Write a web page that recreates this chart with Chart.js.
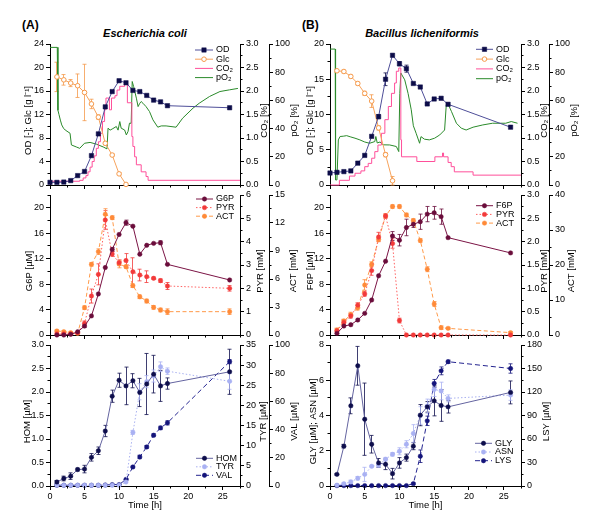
<!DOCTYPE html>
<html>
<head>
<meta charset="utf-8">
<script src="https://cdn.jsdelivr.net/npm/chart.js@4.4.1/dist/chart.umd.min.js"></script>
<style>
  html, body { margin: 0; padding: 0; background: #fff; }
  body { position: relative; width: 600px; height: 527px; overflow: hidden; font-family: "Liberation Sans", Arial, sans-serif; }
  canvas { position: absolute; }
  .t { position: absolute; font-weight: bold; white-space: nowrap; color: #000; }
</style>
</head>
<body>
<div class="t" style="left:22px;top:18px;font-size:12px">(A)</div>
<div class="t" style="left:45px;top:27px;width:200px;text-align:center;font-size:11px;font-style:italic">Escherichia coli</div>
<div class="t" style="left:302px;top:18px;font-size:12px">(B)</div>
<div class="t" style="left:322px;top:27px;width:200px;text-align:center;font-size:11px;font-style:italic">Bacillus licheniformis</div>

<canvas id="a1" width="300" height="159" style="left:0;top:36px"></canvas>
<canvas id="a2" width="300" height="158" style="left:0;top:187px"></canvas>
<canvas id="a3" width="300" height="190" style="left:0;top:337px"></canvas>
<canvas id="b1" width="320" height="159" style="left:280px;top:36px"></canvas>
<canvas id="b2" width="320" height="158" style="left:280px;top:187px"></canvas>
<canvas id="b3" width="320" height="190" style="left:280px;top:337px"></canvas>

<script>
// sampling times [h]
const hoursOD = [0, 1, 2, 3, 4, 5, 6, 7, 8, 9, 10, 11, 12, 13, 14, 15, 16, 17, 26];
const hours = [1, 2, 3, 4, 5, 6, 7, 8, 9, 10, 11, 12, 13, 14, 15, 16, 17, 26];
const hoursGlcA = [1, 2, 3, 4, 5, 6, 7, 8, 9, 10, 11];
const hoursGlcB = [1, 2, 3, 4, 5, 6, 7, 8, 9];

// (A) E. coli - top
const odA = [0.45, 0.45, 0.5, 0.75, 1.6, 2.3, 5.0, 8.7, 13.3, 15.9, 17.75, 17.4, 16.1, 15.9, 15.25, 14.45, 14.15, 13.5, 13.15];
const glcA = [18.4, 17.9, 17.35, 16.9, 15.75, 13.8, 11.55, 7.1, 5.1, 1.9, 0.1];
const glcAErr = [2.5, 0.9, 0.6, 2.0, 4.8, 0.8, 0.4, 0.3, 0.2, 0.2, 0];
const co2TimeA = [0, 4.3, 4.8, 5.2, 5.5, 5.8, 6.1, 6.4, 6.7, 7.0, 7.3, 7.6, 7.9, 8.1, 8.6, 8.9, 9.4, 9.7, 10.1, 10.8, 11.2, 11.85, 12.0, 12.25, 12.5, 13.2, 13.9, 14.2, 27.5];
const co2A = [0.08, 0.1, 0.15, 0.2, 0.28, 0.38, 0.5, 0.62, 0.78, 0.92, 1.1, 1.35, 1.6, 1.85, 1.6, 1.85, 1.9, 2.02, 2.1, 2.2, 1.75, 1.03, 0.82, 0.6, 0.43, 0.28, 0.18, 0.1, 0.1];
const po2TimeA = [0, 1.05, 1.15, 1.3, 1.5, 1.7, 1.95, 2.2, 2.9, 3.1, 3.8, 4.3, 5.0, 5.8, 6.7, 7.7, 8.25, 8.4, 8.7, 9.1, 9.6, 9.85, 10.1, 10.3, 10.8, 11.05, 11.3, 11.5, 11.75, 11.9, 12.1, 12.5, 12.75, 13.0, 13.2, 13.45, 13.9, 14.4, 14.9, 15.6, 16.1, 16.8, 18.25, 19.2, 20.7, 21.6, 23.1, 24.6, 26.0, 27.2];
const po2A = [97.6, 97.6, 53, 50, 46, 42.6, 40.3, 39, 36.7, 28.4, 27, 26, 29.6, 30.2, 29, 27, 25.6, 40.3, 38.9, 40, 41.5, 38.9, 45, 40.3, 39, 35.5, 38, 43.8, 43.8, 73.4, 69.9, 61.6, 55.6, 58, 59.2, 58, 55.6, 52.1, 46.2, 41, 41.9, 41.9, 41, 47.4, 54.5, 58, 62.8, 66.3, 67.5, 68.5];

// (A) middle
const g6p = [0, 0, 0.1, 0.5, 1.4, 3.0, 6.45, 10.6, 13.45, 15.8, 17.65, 17.1, 12.7, 14.1, 14.4, 14.5, 11.1, 8.65];
const g6pErr = [0, 0, 0, 0, 0.2, 0, 0, 0, 0.3, 0, 0.4, 0, 0, 0, 0, 0.3, 0, 0];
const pyrA = [0.05, 0.05, 0.05, 0.1, 0.5, 1.67, 2.6, 4.93, 3.47, 3.1, 3.19, 2.71, 2.57, 2.5, 2.43, 2.33, 2.1, 2.0];
const pyrAErr = [0, 0, 0, 0, 0.1, 0.3, 0.45, 0.4, 0.1, 0.12, 0.3, 0.6, 0.25, 0.25, 0.05, 0.08, 0.15, 0.12];
const actA = [0.43, 0.36, 0.25, 0.18, 2.93, 7.57, 8.93, 12.93, 12.57, 7.6, 7.32, 5.29, 4.1, 3.64, 2.96, 2.68, 2.5, 2.5];
const actAErr = [0.1, 0.1, 0.1, 0.1, 0.2, 0.2, 0.3, 0.6, 0.2, 0.4, 0.2, 0.2, 0.2, 0.2, 0.2, 0.2, 0.3, 0.3];

// (A) bottom
const hom = [0.085, 0.16, 0.21, 0.35, 0.36, 0.61, 0.75, 1.17, 1.91, 2.25, 2.13, 2.24, 1.99, 2.17, 2.38, 2.13, 2.18, 2.43];
const homErr = [0.03, 0.05, 0.07, 0.03, 0.08, 0.08, 0.08, 0.12, 0.13, 0.15, 0.4, 0.15, 0.3, 0.65, 0.4, 0.33, 0.12, 0.48];
const tyr = [0.2, 0.2, 0.2, 0.2, 0.2, 0.2, 0.2, 0.2, 0.2, 0.2, 1.0, 13.3, 23.4, 25.9, 27.3, 29.6, 28.5, 26.0];
const tyrErr = [0, 0, 0, 0, 0, 0, 0, 0, 0, 0, 0, 0.5, 2.0, 1.5, 1.5, 1.2, 0.8, 2.0];
const val = [0.5, 0.5, 0.5, 0.5, 0.5, 0.5, 0.5, 0.7, 1.0, 1.0, 4.7, 13.5, 20.6, 27.7, 36.0, 41.2, 44.8, 88.2];
const valErr = [0.3, 0.3, 0.3, 0.3, 0.3, 0.3, 0.3, 0.3, 0.3, 0.3, 0.5, 0.5, 1.2, 1, 1, 1.2, 1.5, 1.5];

// (B) B. licheniformis - top
const odB = [1.7, 1.8, 1.9, 2.0, 3.1, 4.2, 6.9, 9.7, 15.0, 18.4, 17.2, 16.5, 14.4, 13.9, 11.5, 12.2, 12.3, 11.45, 8.2];
const odBErr = [0, 0, 0, 0, 0, 0, 0, 0.3, 0.9, 0, 0.3, 0.5, 0, 0, 0, 0, 0, 0, 0];
const glcB = [16.2, 16.1, 15.4, 14.4, 13.0, 11.9, 8.1, 4.3, 0.6];
const glcBErr = [0.2, 0.2, 0.2, 0.2, 0.3, 0.9, 0.3, 0.3, 0.6];
const co2TimeB = [0, 1.35, 2.8, 3.6, 4.45, 5.0, 5.5, 6.0, 6.45, 6.9, 7.4, 7.9, 8.4, 8.85, 9.3, 9.55, 9.9, 10.2, 10.3, 12.5, 15.1, 16.2, 16.35, 17.0, 17.45, 17.9, 20.6, 27.5];
const co2B = [0.0, 0.1, 0.19, 0.25, 0.3, 0.39, 0.46, 0.57, 0.71, 0.85, 1.1, 1.39, 1.67, 1.95, 2.17, 2.42, 2.49, 0.96, 0.6, 0.5, 0.6, 0.68, 0.6, 0.48, 0.39, 0.28, 0.21, 0.21];
const po2TimeB = [0, 0.75, 0.8, 1.0, 1.2, 1.45, 1.9, 2.4, 2.9, 3.6, 4.3, 5.0, 5.7, 6.45, 6.6, 6.8, 7.2, 7.65, 8.6, 9.55, 9.9, 10.05, 10.2, 10.76, 11.24, 11.7, 12.0, 12.4, 12.9, 13.1, 13.6, 14.3, 15.06, 15.8, 16.5, 16.74, 16.95, 17.5, 18.2, 18.9, 19.6, 20.6, 22.0, 23.4, 25.3, 26.1, 27.0];
const po2B = [96.4, 96.4, 3.6, 3.6, 32, 34.4, 34.6, 35, 34.2, 33.2, 32, 30.5, 29.6, 30.8, 34.4, 29.8, 30.5, 28.5, 28.4, 27.3, 23.7, 65, 79.4, 74.6, 65, 53.3, 42, 36.7, 29.6, 34.3, 32.5, 32, 33.2, 35.5, 39, 56.9, 58, 52, 43.8, 40.3, 39, 41, 42.6, 43.8, 43.8, 45, 43.8];

// (B) middle
const f6p = [0.26, 1.41, 1.62, 2.36, 3.4, 5.5, 9.3, 11.6, 15.55, 14.9, 16.9, 17.4, 17.8, 19.0, 19.2, 18.6, 15.3, 12.9];
const f6pErr = [0, 0, 0, 0, 0, 0, 0, 0, 0.7, 0.9, 1.3, 0.5, 1.2, 1.2, 1.0, 1.2, 0, 0];
const pyrB = [0.09, 0.27, 0.41, 0.64, 0.88, 1.38, 2.1, 2.55, 1.96, 0.31, 0, 0, 0, 0, 0, 0, 0, 0];
const pyrBErr = [0, 0.05, 0.05, 0.05, 0.05, 0.1, 0.1, 0.05, 0.1, 0.05, 0, 0, 0, 0, 0, 0, 0, 0];
const actB = [1.43, 4.0, 5.8, 7.8, 14.3, 20.2, 27.3, 34.0, 36.7, 36.7, 34.3, 32.7, 27.0, 18.8, 8.86, 2.1, 1.9, 0.67];
const actBErr = [0.5, 0.5, 0.7, 0.7, 1.5, 0.7, 0.5, 0.5, 0.5, 0.5, 0.5, 0.5, 0.5, 0.7, 0.7, 0.5, 0.3, 0.3];

// (B) bottom
const gly = [0.66, 2.26, 4.55, 6.82, 3.79, 2.37, 1.31, 1.23, 0.7, 1.31, 1.61, 2.26, 4.02, 4.49, 4.83, 4.57, 4.49, 5.31];
const glyErr = [0.05, 0.1, 0.45, 1.1, 2.05, 0.5, 0.25, 0.3, 0.3, 0.3, 0.2, 0.2, 0.6, 0.3, 0.85, 0.9, 0.35, 0.65];
const asn = [0.05, 0.13, 0.23, 0.44, 0.66, 1.12, 1.18, 1.52, 1.8, 1.97, 2.37, 2.98, 4.0, 4.53, 5.48, 5.39, 4.97, 5.16];
const asnErr = [0, 0.05, 0.1, 0.1, 0.4, 0.05, 0.1, 0.1, 0.1, 0.2, 0.2, 0.5, 0.5, 0.4, 0.4, 0.5, 0.2, 0.3];
const lys = [0.5, 0.5, 0.5, 0.5, 0.5, 0.5, 0.5, 0.5, 0.5, 0.5, 0.5, 3, 38, 83.2, 131, 147, 158.7, 150];
const lysErr = [0, 0, 0, 0, 0, 0, 0, 0, 0, 0, 0, 1, 8, 6, 5, 5, 2, 6];

const FONT = '"Liberation Sans", Arial, sans-serif';
Chart.defaults.font.family = FONT;
Chart.defaults.font.size = 9;
Chart.defaults.color = '#000';

const fix1 = v => v.toFixed(1);

function ax(pos, max, step, width, weight, fmt) {
  return {
    type: 'linear', position: pos, min: 0, max: max, weight: weight || 0,
    afterFit: s => { s.width = width; },
    border: { color: '#000', width: 1 },
    grid: { drawOnChartArea: false, color: '#000', tickLength: 4 },
    ticks: { stepSize: step, includeBounds: false, autoSkip: false, padding: 2, font: { size: 9 }, callback: fmt || (v => v) }
  };
}

function xAx(labels, height) {
  return {
    type: 'linear', position: 'bottom', min: 0, max: 27.5,
    afterFit: s => { s.height = height; },
    border: { color: '#000', width: 1 },
    grid: { drawOnChartArea: false, color: '#000', tickLength: 4 },
    ticks: { stepSize: 5, includeBounds: false, autoSkip: false, maxRotation: 0, padding: 1, font: { size: 9 },
      callback: labels ? (v => v) : () => '' },
    title: labels ? { display: true, text: 'Time [h]', font: { size: 9.5 }, padding: { top: 0, bottom: 16 } } : { display: false }
  };
}

function series(label, xs, ys, o) {
  return Object.assign({
    label: label,
    data: xs.map((x, i) => ({ x: x, y: ys[i] })),
    borderWidth: 1, pointRadius: 0, pointBorderWidth: 0.5, clip: false, tension: 0
  }, o);
}

function markers(color, o) {
  return Object.assign({ pointStyle: 'circle', pointRadius: 2.2, pointBackgroundColor: color, pointBorderColor: color }, o);
}

function alignPx(p) { return Math.round(p - 0.5) + 0.5; }

function drawMark(ctx, ds, x, y) {
  const r = ds.pointRadius;
  ctx.fillStyle = ds.pointBackgroundColor;
  ctx.strokeStyle = ds.pointBorderColor;
  ctx.lineWidth = ds.pointBorderWidth;
  ctx.beginPath();
  if (ds.pointStyle === 'rect') {
    const s = r * Math.SQRT1_2;
    ctx.rect(x - s, y - s, 2 * s, 2 * s);
  } else {
    ctx.arc(x, y, r, 0, Math.PI * 2);
  }
  ctx.fill();
  if (ds.pointBorderWidth > 0) ctx.stroke();
}

// error bars, minor ticks, rotated axis titles and the inset legend
function decor(c) {
  return {
    id: 'decor',
    beforeDatasetsDraw(chart) {
      const ctx = chart.ctx;
      chart.data.datasets.forEach((ds, i) => {
        if (!ds.errors) return;
        const ys = chart.scales[ds.yAxisID];
        const meta = chart.getDatasetMeta(i);
        ctx.save();
        ctx.strokeStyle = ds.errColor || ds.pointBorderColor;
        ctx.lineWidth = 0.8;
        meta.data.forEach((pt, j) => {
          const e = ds.errors[j];
          if (!e) return;
          const v = ds.data[j].y;
          const y1 = ys.getPixelForValue(v + e), y2 = ys.getPixelForValue(v - e);
          const x = alignPx(pt.x);
          ctx.beginPath();
          ctx.moveTo(x, y1); ctx.lineTo(x, y2);
          ctx.moveTo(x - 2, y1); ctx.lineTo(x + 2, y1);
          ctx.moveTo(x - 2, y2); ctx.lineTo(x + 2, y2);
          ctx.stroke();
        });
        ctx.restore();
      });
    },
    afterDraw(chart) {
      const ctx = chart.ctx;
      ctx.save();
      ctx.strokeStyle = '#000';
      ctx.lineWidth = 1;
      Object.keys(c.minor).forEach(id => {
        const s = chart.scales[id], step = c.minor[id];
        for (let k = 0; k * step <= s.max + 1e-9; k++) {
          const p = alignPx(s.getPixelForValue(k * step));
          ctx.beginPath();
          if (id === 'x') { ctx.moveTo(p, s.top); ctx.lineTo(p, s.top + 2.5); }
          else if (s.position === 'left') { ctx.moveTo(s.right, p); ctx.lineTo(s.right - 2.5, p); }
          else { ctx.moveTo(s.left, p); ctx.lineTo(s.left + 2.5, p); }
          ctx.stroke();
        }
      });
      const area = chart.chartArea;
      const cy = (area.top + area.bottom) / 2 + 6;
      ctx.fillStyle = '#000';
      ctx.font = '9.5px ' + FONT;
      ctx.textAlign = 'center';
      ctx.textBaseline = 'middle';
      c.titles.forEach(t => {
        ctx.save();
        ctx.translate(t.x, cy);
        ctx.rotate(-Math.PI / 2);
        ctx.fillText(t.text, 0, 0);
        ctx.restore();
      });
      const L = c.legend;
      chart.data.datasets.forEach((ds, i) => {
        const y = L.y + i * L.dy;
        ctx.save();
        ctx.strokeStyle = ds.borderColor;
        ctx.lineWidth = ds.borderWidth;
        ctx.setLineDash(ds.borderDash || []);
        ctx.beginPath();
        ctx.moveTo(L.x, y); ctx.lineTo(L.x + L.w, y);
        ctx.stroke();
        ctx.setLineDash([]);
        if (ds.pointRadius) drawMark(ctx, ds, L.x + L.w / 2, y);
        ctx.fillStyle = '#000';
        ctx.font = '9px ' + FONT;
        ctx.textAlign = 'left';
        ctx.textBaseline = 'middle';
        ctx.fillText(ds.label, L.x + L.w + 3, y);
        ctx.restore();
      });
      ctx.restore();
    }
  };
}

function make(id, c) {
  return new Chart(document.getElementById(id), {
    type: 'line',
    data: { datasets: c.datasets },
    options: {
      responsive: false, animation: false, events: [],
      layout: { padding: { top: 8, left: 0, right: 0, bottom: 0 } },
      plugins: { legend: { display: false }, tooltip: { enabled: false } },
      scales: c.scales
    },
    plugins: [decor(c)]
  });
}

const C = {
  od: '#4e4e98', odPt: '#0c0c48',
  glc: '#f7a35c', glcPt: '#f5994a',
  co2: '#ff4f9a', po2: '#2a8a2a',
  sug: '#7b1445', sugPt: '#6a0d3b',
  pyr: '#ff6060', pyrPt: '#f23a3a',
  act: '#ff9a4a', actPt: '#ff8a38',
  aa1: '#6464a0', aa1Pt: '#0e0e4c',
  aa2: '#a8b0f0', aa2Pt: '#a9b1f3',
  aa3: '#23238f', aa3Pt: '#14147a'
};

// ---------- (A) top ----------
make('a1', {
  datasets: [
    series('OD', hoursOD, odA, { yAxisID: 'y', borderColor: C.od, pointStyle: 'rect', pointRadius: 3.1, pointBackgroundColor: C.odPt, pointBorderColor: C.odPt }),
    series('Glc', hoursGlcA, glcA, { yAxisID: 'y', borderColor: C.glc, pointStyle: 'circle', pointRadius: 2.3, pointBackgroundColor: '#fff', pointBorderColor: C.glcPt, pointBorderWidth: 1, errors: glcAErr }),
    series('CO₂', co2TimeA, co2A, { yAxisID: 'yc', borderColor: C.co2, stepped: true }),
    series('pO₂', po2TimeA, po2A, { yAxisID: 'yp', borderColor: C.po2 })
  ],
  scales: { x: xAx(false, 10), y: ax('left', 24, 4, 50), yc: ax('right', 3, 0.5, 29, 0, fix1), yp: ax('right', 100, 20, 31, 1) },
  minor: { x: 2.5, y: 2, yc: 0.25, yp: 10 },
  titles: [{ x: 28, text: 'OD [-]; Glc [g l⁻¹]' }, { x: 264, text: 'CO₂ [%]' }, { x: 294, text: 'pO₂ [%]' }],
  legend: { x: 195, y: 14, dy: 9.2, w: 18 }
});

// ---------- (A) middle ----------
make('a2', {
  datasets: [
    series('G6P', hours, g6p, markers(C.sugPt, { yAxisID: 'y', borderColor: C.sug, errors: g6pErr })),
    series('PYR', hours, pyrA, markers(C.pyrPt, { yAxisID: 'yr', borderColor: C.pyr, borderDash: [1.5, 2], errors: pyrAErr })),
    series('ACT', hours, actA, markers(C.actPt, { yAxisID: 'ya', borderColor: C.act, borderDash: [4, 2.5], errors: actAErr }))
  ],
  scales: { x: xAx(false, 10), y: ax('left', 22, 4, 50), yr: ax('right', 6, 1, 29), ya: ax('right', 15, 3, 31, 1) },
  minor: { x: 2.5, y: 2, yr: 0.5, ya: 1.5 },
  titles: [{ x: 29, text: 'G6P [µM]' }, { x: 260, text: 'PYR [mM]' }, { x: 293, text: 'ACT [mM]' }],
  legend: { x: 196, y: 12, dy: 8.6, w: 17 }
});

// ---------- (A) bottom ----------
make('a3', {
  datasets: [
    series('HOM', hours, hom, markers(C.aa1Pt, { yAxisID: 'y', borderColor: C.aa1, errors: homErr })),
    series('TYR', hours, tyr, markers(C.aa2Pt, { yAxisID: 'yt', borderColor: C.aa2, borderDash: [1.5, 2], errors: tyrErr })),
    series('VAL', hours, val, markers(C.aa3Pt, { yAxisID: 'yv', borderColor: C.aa3, borderDash: [5, 3], errors: valErr }))
  ],
  scales: { x: xAx(true, 41), y: ax('left', 3, 0.5, 50, 0, fix1), yt: ax('right', 35, 5, 29), yv: ax('right', 100, 20, 31, 1) },
  minor: { x: 2.5, y: 0.25, yt: 2.5, yv: 10 },
  titles: [{ x: 27, text: 'HOM [µM]' }, { x: 263, text: 'TYR [µM]' }, { x: 294, text: 'VAL [µM]' }],
  legend: { x: 196, y: 121.3, dy: 8.5, w: 17 }
});

// ---------- (B) top ----------
make('b1', {
  datasets: [
    series('OD', hoursOD, odB, { yAxisID: 'y', borderColor: C.od, pointStyle: 'rect', pointRadius: 3.1, pointBackgroundColor: C.odPt, pointBorderColor: C.odPt, errors: odBErr }),
    series('Glc', hoursGlcB, glcB, { yAxisID: 'y', borderColor: C.glc, pointStyle: 'circle', pointRadius: 2.3, pointBackgroundColor: '#fff', pointBorderColor: C.glcPt, pointBorderWidth: 1, errors: glcBErr }),
    series('CO₂', co2TimeB, co2B, { yAxisID: 'yc', borderColor: C.co2, stepped: true }),
    series('pO₂', po2TimeB, po2B, { yAxisID: 'yp', borderColor: C.po2 })
  ],
  scales: { x: xAx(false, 10), y: ax('left', 20, 5, 50), yc: ax('right', 3, 0.5, 28, 0, fix1), yp: ax('right', 100, 20, 51, 1) },
  minor: { x: 2.5, y: 2.5, yc: 0.25, yp: 10 },
  titles: [{ x: 30, text: 'OD [-]; Glc [g l⁻¹]' }, { x: 264, text: 'CO₂ [%]' }, { x: 294, text: 'pO₂ [%]' }],
  legend: { x: 196, y: 13.3, dy: 9.8, w: 17 }
});

// ---------- (B) middle ----------
make('b2', {
  datasets: [
    series('F6P', hours, f6p, markers(C.sugPt, { yAxisID: 'y', borderColor: C.sug, errors: f6pErr })),
    series('PYR', hours, pyrB, markers(C.pyrPt, { yAxisID: 'yr', borderColor: C.pyr, borderDash: [1.5, 2], errors: pyrBErr })),
    series('ACT', hours, actB, markers(C.actPt, { yAxisID: 'ya', borderColor: C.act, borderDash: [4, 2.5], errors: actBErr }))
  ],
  scales: { x: xAx(false, 10), y: ax('left', 22, 4, 50), yr: ax('right', 3, 0.5, 28, 0, fix1), ya: ax('right', 40, 10, 51, 1) },
  minor: { x: 2.5, y: 2, yr: 0.25, ya: 5 },
  titles: [{ x: 30, text: 'F6P [µM]' }, { x: 264, text: 'PYR [mM]' }, { x: 291, text: 'ACT [mM]' }],
  legend: { x: 196, y: 18.7, dy: 8.7, w: 17 }
});

// ---------- (B) bottom ----------
make('b3', {
  datasets: [
    series('GLY', hours, gly, markers(C.aa1Pt, { yAxisID: 'y', borderColor: C.aa1, errors: glyErr })),
    series('ASN', hours, asn, markers(C.aa2Pt, { yAxisID: 'y', borderColor: C.aa2, borderDash: [1.5, 2], errors: asnErr })),
    series('LYS', hours, lys, markers(C.aa3Pt, { yAxisID: 'yl', borderColor: C.aa3, borderDash: [5, 3], errors: lysErr }))
  ],
  scales: { x: xAx(true, 41), y: ax('left', 8, 2, 50), yl: ax('right', 180, 30, 79) },
  minor: { x: 2.5, y: 1, yl: 15 },
  titles: [{ x: 33, text: 'GLY [µM]; ASN [µM]' }, { x: 266, text: 'LSY [µM]' }],
  legend: { x: 195, y: 106.3, dy: 8.7, w: 17 }
});
</script>
</body>
</html>
